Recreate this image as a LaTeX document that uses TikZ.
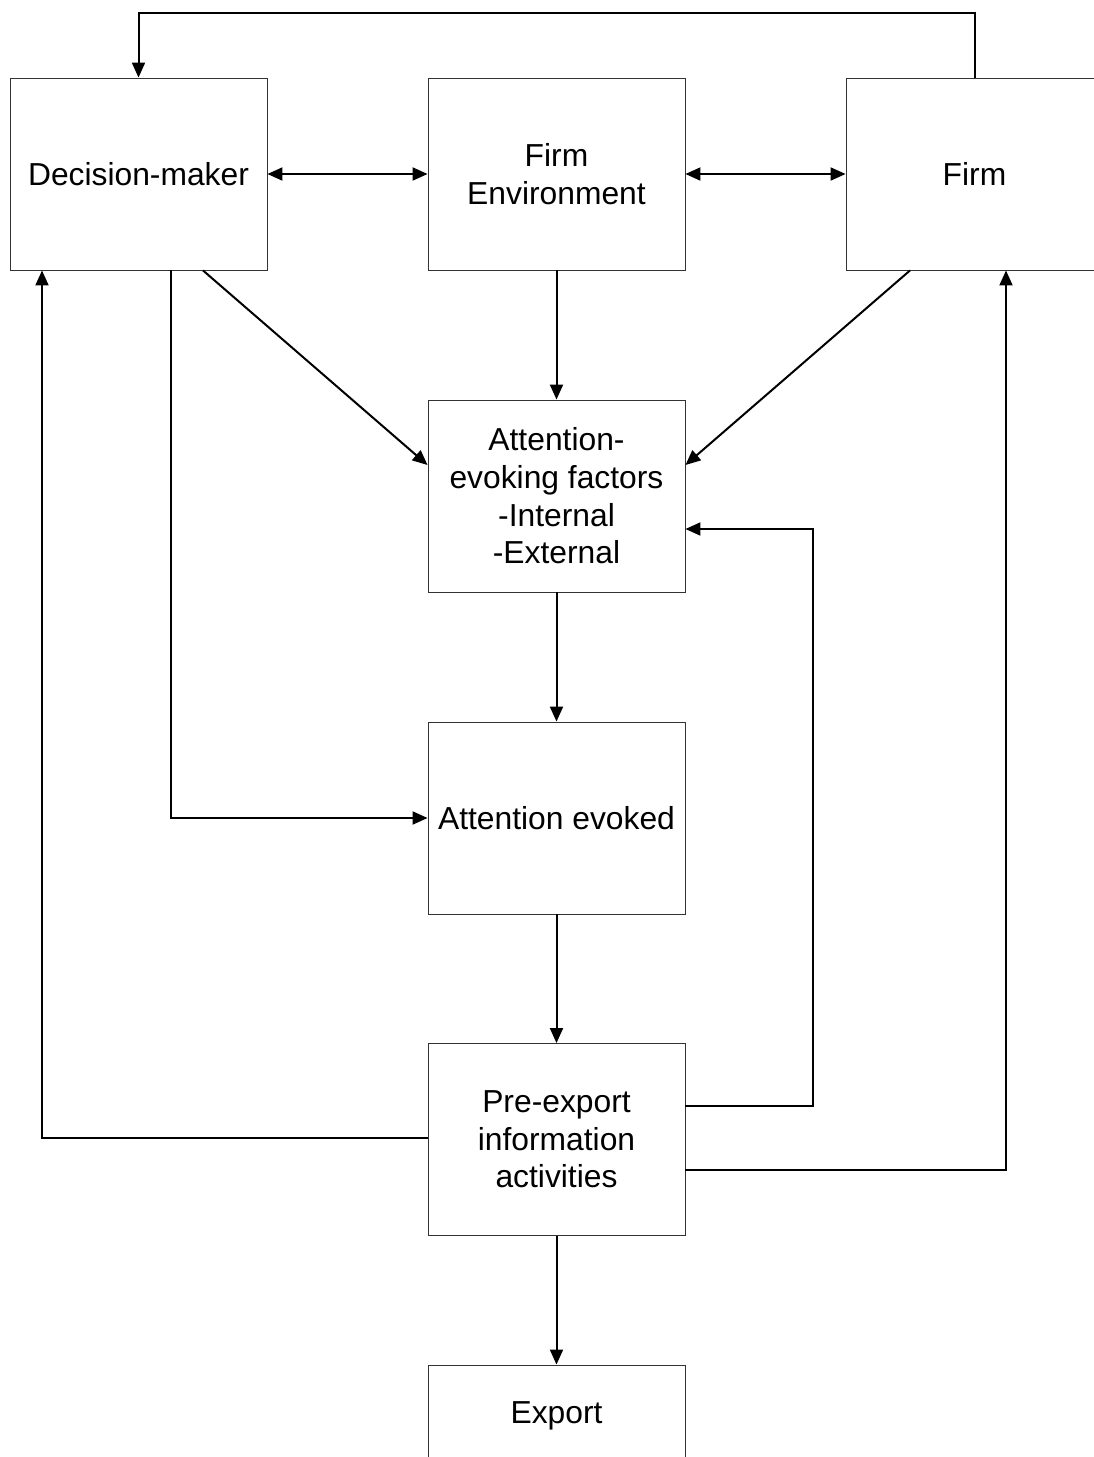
\documentclass[tikz,border=0pt]{standalone}
\usepackage{fontspec}
\setmainfont{Liberation Sans}
\usetikzlibrary{arrows.meta}
\begin{document}
\begin{tikzpicture}[x=1pt,y=-1pt,
  box/.style={draw=black!80, line width=0.9pt, minimum width=257pt, minimum height=192pt,
    inner sep=0pt, align=center, font=\fontsize{31.8}{37.7}\selectfont},
  head/.tip={Triangle[length=15pt,width=13pt]},
  conn/.style={line width=2pt, -head},
  both/.style={line width=2pt, head-head}]
\useasboundingbox (0,0) rectangle (1094,1457);
\clip (0,0) rectangle (1094,1457);

% boxes
\node[box] (dm)   at (138.5,174)  {Decision-maker};
\node[box] (fe)   at (556.5,174)  {Firm\\Environment};
\node[box] (firm) at (974.5,174)  {Firm};
\node[box] (ae)   at (556.5,496)  {Attention-\\evoking factors\\-Internal\\-External};
\node[box] (ev)   at (556.5,818)  {Attention evoked};
\node[box] (pe)   at (556.5,1139.5) {Pre-export\\information\\activities};
\node[box, minimum height=102pt] (ex) at (556.5,1416) {Export};

% top row
\draw[both] (dm.east) -- (fe.west);
\draw[both] (fe.east) -- (firm.west);
\draw[conn] (firm.north) -- ++(0,-65) -| (dm.north);

% into the attention-evoking factors
\draw[conn] (fe.south) -- (ae.north);
\draw[conn] ([xshift=64.5pt]dm.south) -- ([yshift=31pt]ae.west);
\draw[conn] ([xshift=-64.5pt]firm.south) -- ([yshift=31pt]ae.east);

% main chain
\draw[conn] (ae.south) -- (ev.north);
\draw[conn] ([xshift=32.5pt]dm.south) |- (ev.west);
\draw[conn] (ev.south) -- (pe.north);
\draw[conn] (pe.south) -- (ex.north);

% feedback loops
\draw[conn] ([yshift=33.5pt]pe.east) -- ++(128,0) |- ([yshift=-33pt]ae.east);
\draw[conn] ([yshift=1.5pt]pe.west) -| ([xshift=-96.5pt]dm.south);
\draw[conn] ([yshift=-30.5pt]pe.east) -| ([xshift=31.5pt]firm.south);
\end{tikzpicture}
\end{document}
